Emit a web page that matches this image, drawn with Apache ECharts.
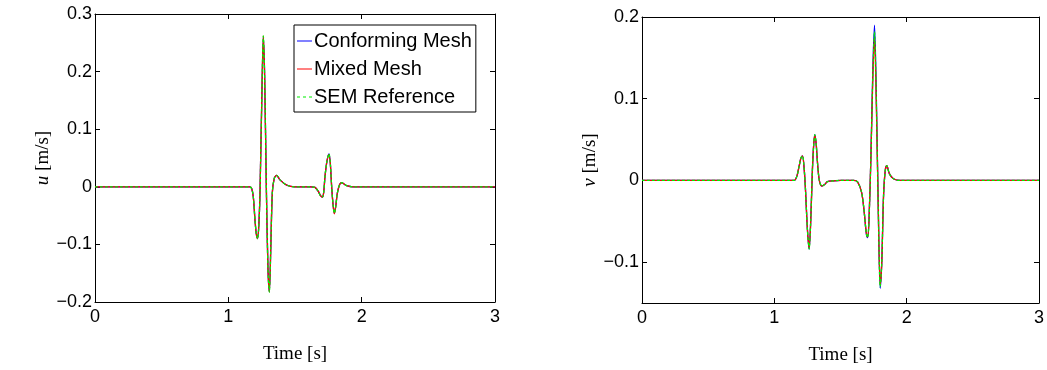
<!DOCTYPE html>
<html><head><meta charset="utf-8">
<script src="https://cdn.jsdelivr.net/npm/echarts@6/dist/echarts.min.js"></script>
<style>html,body{margin:0;padding:0;background:#fff}#c{width:1047px;height:370px}</style>
</head><body><div id="c"></div>
<script>
// ---- data ----
const seriesNames = ['Conforming Mesh', 'Mixed Mesh', 'SEM Reference'];
const xTicks = [0, 1, 2, 3];
const uTicks = [-0.2, -0.1, 0, 0.1, 0.2, 0.3];
const vTicks = [-0.1, 0, 0.1, 0.2];

const tU = [0, 1.1, 1.16, 1.175, 1.1875, 1.2, 1.21, 1.22, 1.23, 1.2375, 1.25, 1.2625, 1.2725, 1.285, 1.297, 1.3075, 1.318, 1.33, 1.345, 1.3625, 1.3875, 1.4375, 1.5, 1.62, 1.65, 1.675, 1.69, 1.705, 1.715, 1.725, 1.74, 1.755, 1.765, 1.775, 1.785, 1.795, 1.805, 1.8175, 1.835, 1.85, 1.8875, 1.9375, 3];
const uConforming = [0, 0, 0, -0.003, -0.018, -0.058, -0.082, -0.09, -0.06, -0.01, 0.14, 0.26, 0.19, 0.0, -0.14, -0.182, -0.11, -0.01, 0.015, 0.02, 0.012, 0.003, 0, 0, -0.001, -0.008, -0.015, -0.018, -0.01, 0.018, 0.045, 0.057, 0.04, 0.0, -0.03, -0.046, -0.035, -0.011, 0.004, 0.007, 0.002, 0, 0];
const uMixed      = [0, 0, 0, -0.003, -0.018, -0.058, -0.082, -0.09, -0.06, -0.01, 0.14, 0.262, 0.19, 0.0, -0.14, -0.182, -0.11, -0.01, 0.015, 0.02, 0.012, 0.003, 0, 0, -0.001, -0.008, -0.015, -0.018, -0.01, 0.018, 0.045, 0.056, 0.04, 0.0, -0.03, -0.047, -0.035, -0.011, 0.004, 0.007, 0.002, 0, 0];
const uSEM        = [0, 0, 0, -0.003, -0.018, -0.058, -0.082, -0.09, -0.06, -0.01, 0.14, 0.262, 0.19, 0.0, -0.14, -0.183, -0.11, -0.01, 0.015, 0.02, 0.012, 0.003, 0, 0, -0.001, -0.008, -0.015, -0.018, -0.01, 0.018, 0.045, 0.057, 0.04, 0.0, -0.03, -0.046, -0.035, -0.011, 0.004, 0.007, 0.002, 0, 0];

const tV = [0, 1.1, 1.15, 1.17, 1.188, 1.2, 1.213, 1.225, 1.235, 1.25, 1.263, 1.275, 1.288, 1.298, 1.306, 1.316, 1.326, 1.34, 1.359, 1.38, 1.401, 1.45, 1.5, 1.6, 1.63, 1.66, 1.68, 1.695, 1.705, 1.715, 1.73, 1.745, 1.757, 1.77, 1.785, 1.8, 1.812, 1.825, 1.838, 1.85, 1.87, 1.9, 1.95, 3];
const vConforming = [0, 0, 0, 0.005, 0.018, 0.027, 0.030, 0.015, -0.01, -0.06, -0.084, -0.05, 0.014, 0.045, 0.056, 0.045, 0.022, 0.0, -0.007, -0.005, -0.0015, -0.0005, 0, 0, -0.002, -0.015, -0.04, -0.065, -0.07, -0.05, 0.03, 0.14, 0.19, 0.11, -0.03, -0.132, -0.1, -0.02, 0.012, 0.018, 0.008, 0.002, 0, 0];
const vMixed      = [0, 0, 0, 0.005, 0.018, 0.027, 0.030, 0.015, -0.01, -0.06, -0.083, -0.05, 0.014, 0.045, 0.055, 0.045, 0.022, 0.0, -0.007, -0.005, -0.0015, -0.0005, 0, 0, -0.002, -0.015, -0.04, -0.064, -0.069, -0.05, 0.03, 0.13, 0.175, 0.10, -0.03, -0.128, -0.1, -0.02, 0.012, 0.018, 0.008, 0.002, 0, 0];
const vSEM        = [0, 0, 0, 0.005, 0.018, 0.027, 0.030, 0.015, -0.01, -0.06, -0.084, -0.05, 0.014, 0.045, 0.056, 0.045, 0.022, 0.0, -0.007, -0.005, -0.0015, -0.0005, 0, 0, -0.002, -0.015, -0.04, -0.065, -0.07, -0.05, 0.03, 0.135, 0.182, 0.105, -0.03, -0.13, -0.1, -0.02, 0.012, 0.018, 0.008, 0.002, 0, 0];

// ---- chart ----
const zip = (t, v) => t.map((x, i) => [x, v[i]]);
const SANS = '"Liberation Sans", Arial, sans-serif';
const SERIF = '"Liberation Serif", "DejaVu Serif", serif';
const fmt = v => { const r = Math.round(v * 10) / 10; if (Math.abs(r) < 1e-9) return '0'; return (r < 0 ? '\u2212' : '') + Math.abs(r).toFixed(1); };
const colors = ['#0000ff', '#ff0000', '#00ee00'];
const lineTypes = ['solid', 'solid', [3, 2]];
const legendIcons = [
  'path://M0,0H15V1H0Z',
  'path://M0,0H15V1H0Z',
  'path://M0,0H3V1H0Z M6,0H9V1H6Z M12,0H15V1H12Z'
];

function xAxes(gi) {
  return [
    { type: 'value', gridIndex: gi, min: 0, max: 3, interval: 1, position: 'bottom',
      name: 'Time [s]', nameLocation: 'middle', nameGap: 43,
      nameTextStyle: { fontFamily: SERIF, fontSize: 19, color: '#000' },
      axisLine: { onZero: false, lineStyle: { color: '#000', width: 1 } },
      axisTick: { inside: true, length: 5, lineStyle: { color: '#000' } },
      axisLabel: { color: '#000', fontFamily: SANS, fontSize: 18, margin: 6, formatter: v => String(v) },
      splitLine: { show: false } },
    { type: 'value', gridIndex: gi, min: 0, max: 3, interval: 1, position: 'top',
      axisLine: { onZero: false, lineStyle: { color: '#000', width: 1 } },
      axisTick: { inside: true, length: 5, lineStyle: { color: '#000' } },
      axisLabel: { show: false }, splitLine: { show: false } }
  ];
}
function yAxes(gi, min, max, interval, nameVar) {
  const base = { type: 'value', gridIndex: gi, min: min, max: max, splitLine: { show: false } };
  if (interval) base.interval = interval; else base.splitNumber = 4;
  return [
    Object.assign({}, base, { position: 'left',
      name: '{i|' + nameVar + '} [m/s]', nameLocation: 'middle', nameGap: 41,
      nameTextStyle: { fontFamily: SERIF, fontSize: 19, color: '#000',
        rich: { i: { fontFamily: SERIF, fontStyle: 'italic', fontSize: 19, color: '#000' } } },
      axisLine: { onZero: false, lineStyle: { color: '#000', width: 1 } },
      axisTick: { inside: true, length: 5, lineStyle: { color: '#000' } },
      axisLabel: { color: '#000', fontFamily: SANS, fontSize: 18, margin: 3, showMinLabel: interval ? true : false,
        formatter: fmt } }),
    Object.assign({}, base, { position: 'right',
      axisLine: { onZero: false, lineStyle: { color: '#000', width: 1 } },
      axisTick: { inside: true, length: 5, lineStyle: { color: '#000' } },
      axisLabel: { show: false } })
  ];
}

const uData = [uConforming, uMixed, uSEM];
const vData = [vConforming, vMixed, vSEM];
const series = [];
[[tU, uData, 0], [tV, vData, 2]].forEach(([t, arrs, ax]) => {
  arrs.forEach((arr, k) => {
    series.push({
      name: seriesNames[k], type: 'line', xAxisIndex: ax, yAxisIndex: ax,
      data: zip(t, arr), showSymbol: false, symbol: 'none', smooth: 0.3,
      lineStyle: { color: colors[k], width: 1.3, type: lineTypes[k] },
      itemStyle: { color: colors[k] }, animation: false, z: 2 + k
    });
  });
});

const chart = echarts.init(document.getElementById('c'), null, { renderer: 'canvas' });
chart.setOption({
  animation: false,
  backgroundColor: '#fff',
  grid: [
    { left: 95, top: 14, width: 400, height: 288 },
    { left: 642, top: 17, width: 399, height: 287 }
  ],
  xAxis: [...xAxes(0), ...xAxes(1)],
  yAxis: [...yAxes(0, -0.2, 0.3, 0.1, 'u'), ...yAxes(1, -0.15, 0.2, null, 'v')],
  legend: {
    data: seriesNames.map((n, k) => ({ name: n, icon: legendIcons[k] })),
    orient: 'vertical', left: 294, top: 25,
    backgroundColor: '#fff', borderColor: '#000', borderWidth: 1,
    padding: [6, 4, 5, 3], itemWidth: 15, itemHeight: 20, itemGap: 8,
    textStyle: { fontFamily: SANS, fontSize: 20, lineHeight: 20, color: '#000', padding: [0, 0, 0, -3] }
  },
  series: series
});
</script></body></html>
